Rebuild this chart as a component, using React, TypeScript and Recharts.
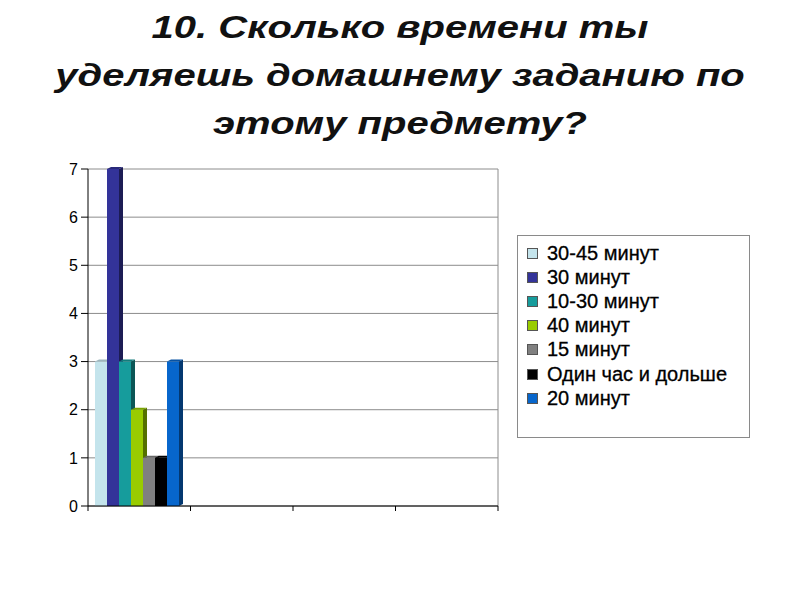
import React from 'react';
import {
  BarChart,
  Bar,
  XAxis,
  YAxis,
  CartesianGrid,
  ReferenceLine,
} from 'recharts';

const titleLines = [
  '10. Сколько времени ты',
  'уделяешь домашнему заданию по',
  'этому предмету?',
];

const categories = ['1', '2', '3', '4'];

const seriesNames = [
  '30-45 минут',
  '30 минут',
  '10-30 минут',
  '40 минут',
  '15 минут',
  'Один час и дольше',
  '20 минут',
];
const seriesColors = ['#c4e4ec', '#333399', '#169c9c', '#99cc00', '#808080', '#000000', '#0766cc'];

// only the first category holds answers
const v3045 = [3];
const v30 = [7];
const v1030 = [3];
const v40 = [2];
const v15 = [1];
const vHour = [1];
const v20 = [3];

const seriesValues = [v3045, v30, v1030, v40, v15, vHour, v20];
const yTicks = [0, 1, 2, 3, 4, 5, 6, 7];
const boundaryTicks = [0, 1, 2, 3, 4];

const data = categories.map((c, i) => {
  const row: Record<string, string | number | null> = { name: c, pos: i + 0.5 };
  seriesValues.forEach((vals, s) => {
    row['s' + s] = vals[i] ?? null;
  });
  return row;
});

const font = '"Liberation Sans", Arial, sans-serif';

function darker(hex: string, k: number) {
  const n = parseInt(hex.slice(1), 16);
  const r = Math.round(((n >> 16) & 255) * k);
  const g = Math.round(((n >> 8) & 255) * k);
  const b = Math.round((n & 255) * k);
  return `rgb(${r},${g},${b})`;
}

const Bar3D = (props: any) => {
  const { x, y, width, height, fill } = props;
  if (!height || height <= 0) return null;
  const d = 4;
  return (
    <g>
      <polygon
        points={`${x + width},${y} ${x + width + d},${y - 2} ${x + width + d},${y + height - 2} ${x + width},${y + height}`}
        fill={darker(fill, 0.55)}
      />
      <polygon
        points={`${x},${y} ${x + d},${y - 2} ${x + width + d},${y - 2} ${x + width},${y}`}
        fill={darker(fill, 0.8)}
      />
      <rect x={x} y={y} width={width} height={height} fill={fill} />
    </g>
  );
};

const LegendBox = () => (
  <div
    style={{
      position: 'absolute',
      left: 517,
      top: 235,
      border: '1px solid #8a8a8a',
      background: '#fff',
      width: 233,
      height: 203,
      boxSizing: 'border-box',
      padding: '5px 0 0 9px',
      fontFamily: font,
      fontSize: 20,
      color: '#000',
    }}
  >
    {seriesNames.map((n, i) => (
      <div key={n} style={{ height: 24.2, display: 'flex', alignItems: 'center', whiteSpace: 'nowrap' }}>
        <span
          style={{
            display: 'inline-block',
            width: 9,
            height: 9,
            background: seriesColors[i],
            border: '1px solid #555',
            marginRight: 9,
          }}
        />
        <span style={{ WebkitTextStroke: '0.3px #000' }}>{n}</span>
      </div>
    ))}
  </div>
);

export default function App() {
  return (
    <div style={{ position: 'absolute', left: 0, top: 0, width: 800, height: 600, background: '#fff' }}>
      <div
        style={{
          position: 'absolute',
          left: 0,
          top: 3,
          width: 800,
          textAlign: 'center',
          fontFamily: font,
          fontWeight: 'bold',
          fontStyle: 'italic',
          fontSize: 32,
          lineHeight: '48px',
          color: '#111',
          transform: 'scaleX(1.25)',
          transformOrigin: '400px 0',
        }}
      >
        {titleLines.map((t) => (
          <div key={t}>{t}</div>
        ))}
      </div>
      <div style={{ position: 'absolute', left: 0, top: 0 }}>
        <BarChart
          width={800}
          height={600}
          data={data}
          margin={{ top: 169, right: 302, bottom: 64, left: 0 }}
          barGap={0}
          barSize={12}
        >
          <CartesianGrid vertical={false} stroke="#8c8c8c" />
          <XAxis dataKey="name" xAxisId={0} hide height={0} padding={{ left: -2, right: 2 }} />
          <XAxis
            xAxisId="b"
            type="number"
            dataKey="pos"
            domain={[0, 4]}
            ticks={boundaryTicks}
            tickFormatter={() => ''}
            height={30}
            stroke="#000"
            tickSize={5}
          />
          <YAxis
            domain={[0, 7]}
            ticks={yTicks}
            width={88}
            stroke="#000"
            tickSize={7}
            tickMargin={3}
            tick={{ fill: '#000', fontSize: 16, fontFamily: font }}
          />
          <ReferenceLine xAxisId="b" x={4} stroke="#8c8c8c" />
          {seriesNames.map((n, i) => (
            <Bar
              key={n}
              dataKey={'s' + i}
              name={n}
              fill={seriesColors[i]}
              shape={<Bar3D />}
              isAnimationActive={false}
            />
          ))}
        </BarChart>
      </div>
      <LegendBox />
    </div>
  );
}
